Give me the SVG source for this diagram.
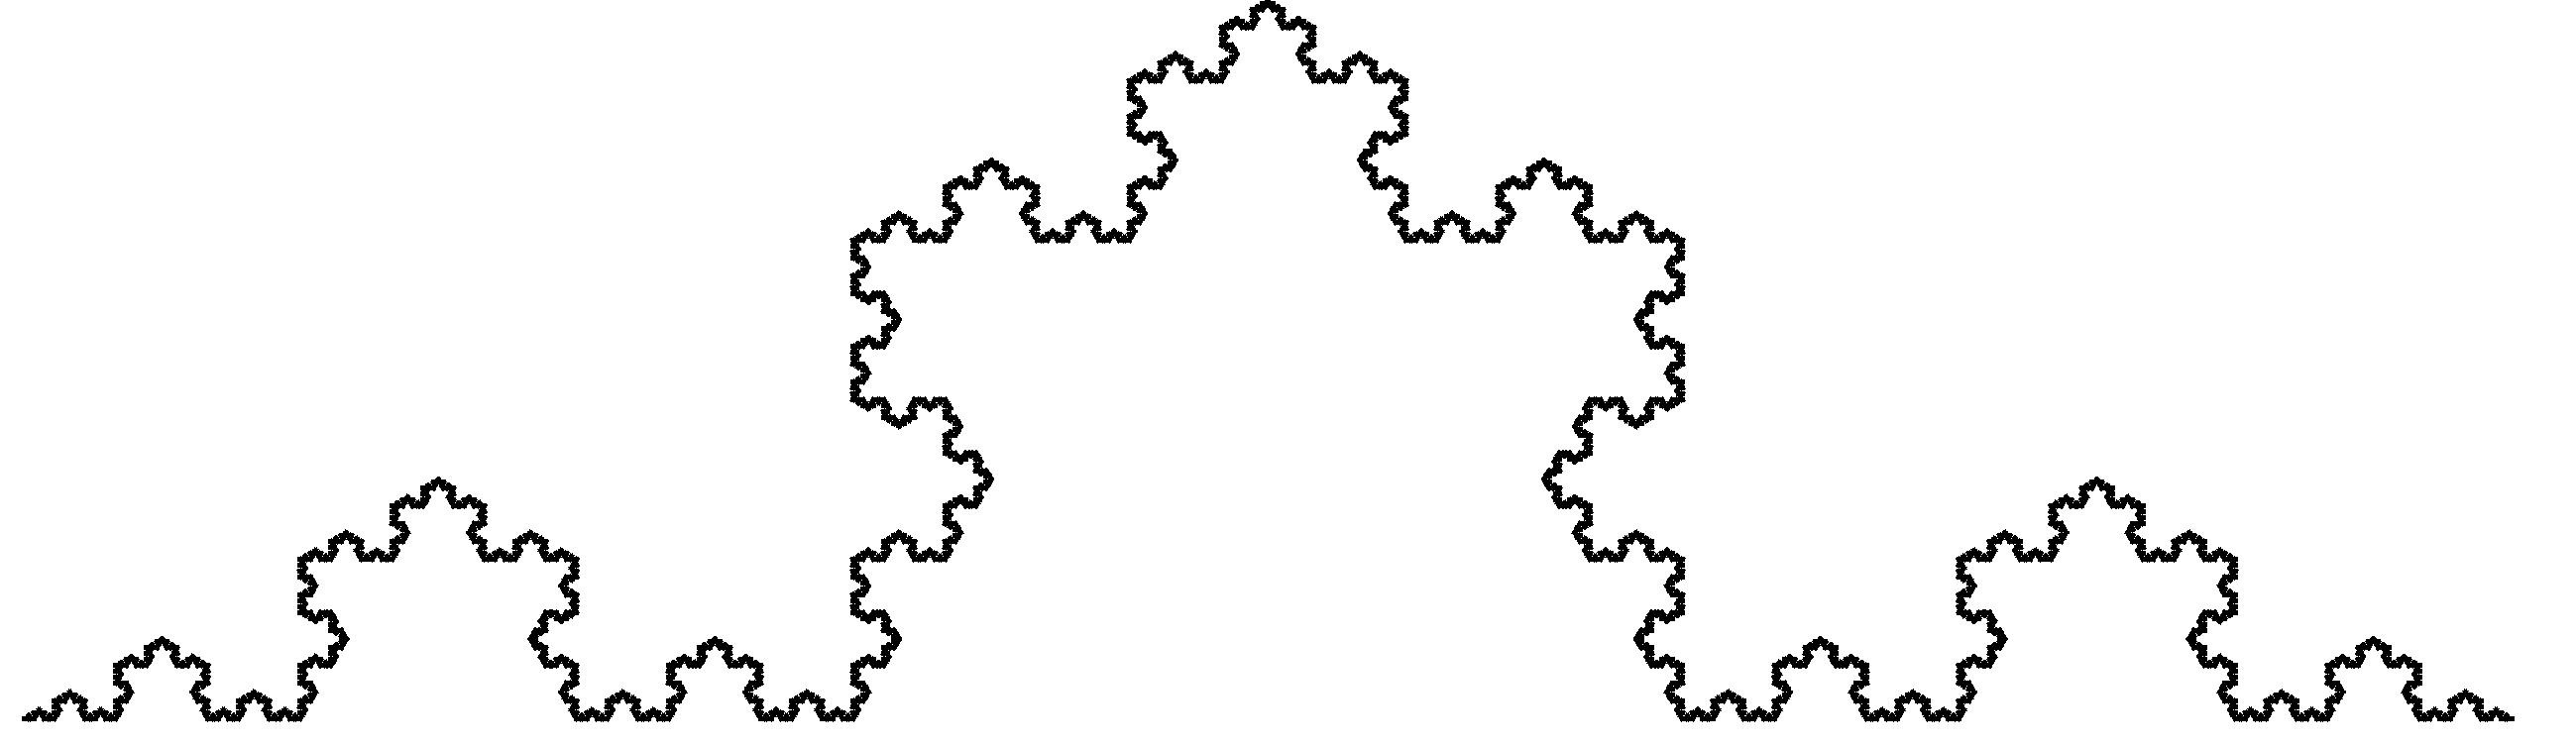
<svg xmlns="http://www.w3.org/2000/svg" xmlns:xlink="http://www.w3.org/1999/xlink" width="2599" height="754" viewBox="0 0 2599 754">
<style>
.seg{stroke:#000;stroke-width:5;stroke-linecap:square;fill:none}
</style>
<defs>
<line id="k0" class="seg" x1="0" y1="0" x2="3.44307" y2="0"/>
<g id="k1">
<use xlink:href="#k0" href="#k0"/>
<use xlink:href="#k0" href="#k0" transform="translate(3.44307,0) rotate(-60)"/>
<use xlink:href="#k0" href="#k0" transform="translate(5.16461,-2.98179) rotate(60)"/>
<use xlink:href="#k0" href="#k0" transform="translate(6.88615,0)"/>
</g>
<g id="k2">
<use xlink:href="#k1" href="#k1"/>
<use xlink:href="#k1" href="#k1" transform="translate(10.32922,0) rotate(-60)"/>
<use xlink:href="#k1" href="#k1" transform="translate(15.49383,-8.94537) rotate(60)"/>
<use xlink:href="#k1" href="#k1" transform="translate(20.65844,0)"/>
</g>
<g id="k3">
<use xlink:href="#k2" href="#k2"/>
<use xlink:href="#k2" href="#k2" transform="translate(30.98765,0) rotate(-60)"/>
<use xlink:href="#k2" href="#k2" transform="translate(46.48148,-26.83611) rotate(60)"/>
<use xlink:href="#k2" href="#k2" transform="translate(61.97531,0)"/>
</g>
<g id="k4">
<use xlink:href="#k3" href="#k3"/>
<use xlink:href="#k3" href="#k3" transform="translate(92.96296,0) rotate(-60)"/>
<use xlink:href="#k3" href="#k3" transform="translate(139.44444,-80.50833) rotate(60)"/>
<use xlink:href="#k3" href="#k3" transform="translate(185.92593,0)"/>
</g>
<g id="k5">
<use xlink:href="#k4" href="#k4"/>
<use xlink:href="#k4" href="#k4" transform="translate(278.88889,0) rotate(-60)"/>
<use xlink:href="#k4" href="#k4" transform="translate(418.33333,-241.525) rotate(60)"/>
<use xlink:href="#k4" href="#k4" transform="translate(557.77778,0)"/>
</g>
<g id="k6">
<use xlink:href="#k5" href="#k5"/>
<use xlink:href="#k5" href="#k5" transform="translate(836.66667,0) rotate(-60)"/>
<use xlink:href="#k5" href="#k5" transform="translate(1255,-724.574) rotate(60)"/>
<use xlink:href="#k5" href="#k5" transform="translate(1673.33333,0)"/>
</g>
</defs>
<rect width="2599" height="754" fill="#fff"/>
<g id="koch-curve" shape-rendering="crispEdges">
<use xlink:href="#k6" href="#k6" transform="translate(24,725.5)"/>
</g>
</svg>
